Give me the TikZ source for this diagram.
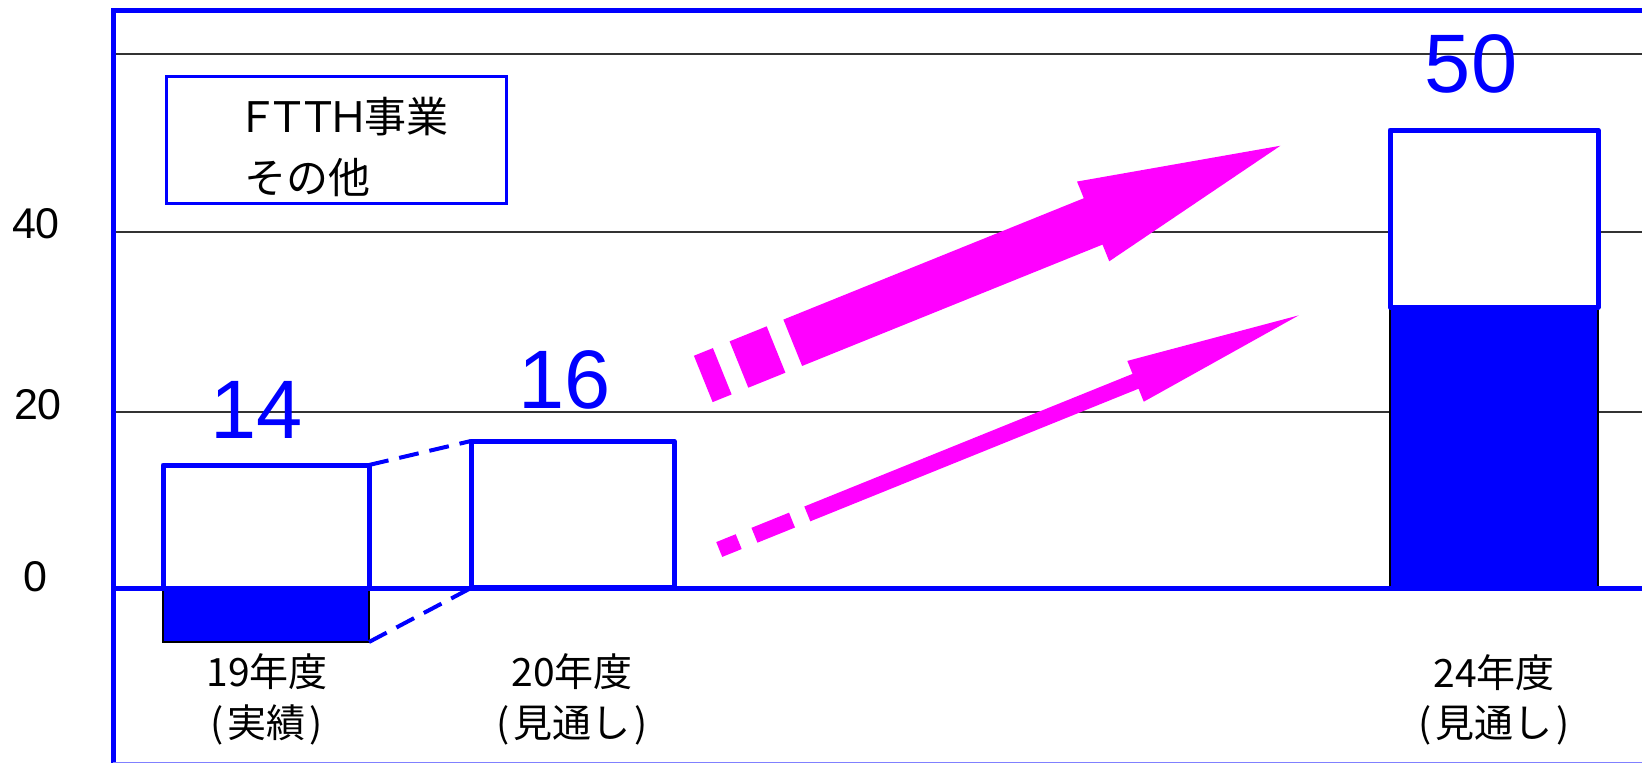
\documentclass[tikz,border=0pt]{standalone}
\usepackage{fontspec}
\setmainfont{Liberation Sans}
\newfontfamily\jp{Noto Sans CJK JP}
\definecolor{chartblue}{RGB}{0,0,255}
\definecolor{arrowmag}{RGB}{255,0,255}
\definecolor{gridgray}{RGB}{51,51,51}
\newcommand{\fwl}[1]{\makebox[30.5pt][c]{#1}}
\newcommand{\prn}[1]{(\kern4pt #1\kern4pt)}
\begin{document}
\begin{tikzpicture}[x=1pt,y=-1pt,
  gridline/.style={draw=gridgray, line width=2pt},
  frameline/.style={draw=chartblue, line width=5pt},
  barbox/.style={draw=chartblue, fill=white, line width=5pt, line join=round},
  barfill/.style={draw=black, fill=chartblue, line width=2pt},
  linkline/.style={draw=chartblue, line width=4pt, dash pattern=on 20pt off 11pt},
  bignum/.style={text=chartblue, font=\fontsize{83}{83}\selectfont, inner sep=0pt},
  axisnum/.style={font=\fontsize{43}{43}\selectfont, inner sep=0pt},
  yearlab/.style={font=\jp\fontsize{39}{39}\selectfont, inner sep=0pt},
  legtext/.style={font=\jp\fontsize{42}{42}\selectfont, inner sep=0pt, anchor=west},
  trend/.style={fill=arrowmag, draw=none}
]
\useasboundingbox (0,0) rectangle (1642,763);

% grid lines
\draw[gridline] (113,54) -- (1642,54);
\draw[gridline] (113,232) -- (1642,232);
\draw[gridline] (113,412) -- (1642,412);

% axis labels
\node[axisnum] (y40) at (36,224) {40};
\node[axisnum] (y20) at (38,405) {20};
\node[axisnum] (y0) at (35,577) {0};

% legend
\draw[draw=chartblue, fill=white, line width=3pt] (166,76) rectangle (506,203);
\node[legtext] (leg1) at (242,117) {\fwl{Ｆ}\fwl{Ｔ}\fwl{Ｔ}\fwl{Ｈ}事業};
\node[legtext] (leg2) at (244,178) {その他};

% bar 1 (19)
\draw[barfill] (163,588) rectangle (369,642);
\draw[barbox] (163,465) rectangle (369,588);
\coordinate (b1tr) at (369,465);
\coordinate (b1br) at (369,642);

% bar 2 (20)
\draw[barbox] (471,441) rectangle (674,587);
\coordinate (b2tl) at (471,441);
\coordinate (b2bl) at (471,588);

% bar 3 (24)
\draw[barfill] (1390,307) rectangle (1598,588);
\draw[barbox] (1390,130) rectangle (1598,307);

% frame and zero line
\draw[frameline, line cap=rect] (113,10) -- (1642,10);
\draw[frameline] (113,10) -- (113,763);
\draw[frameline] (113,588) -- (1642,588);
\draw[draw=chartblue!50, line width=1.5pt] (113,762.5) -- (1642,762.5);

% dashed links
\draw[linkline] (b1tr) -- (b2tl);
\draw[linkline] (b1br) -- (b2bl);

% value labels
\node[bignum] (v14) at (257,410) {14};
\node[bignum] (v16) at (565,380) {16};
\node[bignum] (v50) at (1471,64) {50};

% year labels
\node[yearlab] (yr19) at (267,672) {19年度};
\node[yearlab] (yr19b) at (267,725) {\prn{実績}};
\node[yearlab] (yr20) at (572,672) {20年度};
\node[yearlab] (yr20b) at (572,725) {\prn{見通し}};
\node[yearlab] (yr24) at (1494,673) {24年度};
\node[yearlab] (yr24b) at (1494,725) {\prn{見通し}};

% big trend arrow
\begin{scope}[shift={(713,375)}, rotate=22]
  \fill[trend] (-10.5,-25) rectangle (10,25);
  \fill[trend] (28,-25) rectangle (68,25);
  \fill[trend] (86,-25) -- (410,-25) -- (410,-43) -- (612,0) -- (410,43) -- (410,25) -- (86,25) -- cycle;
\end{scope}

% thin trend arrow
\begin{scope}[shift={(728.5,545.75)}, rotate=22]
  \fill[trend] (-10,-8) rectangle (11,8);
  \fill[trend] (28,-8) rectangle (68.5,8);
  \fill[trend] (85,-8) -- (439,-8) -- (439,-22) -- (615,0) -- (439,22) -- (439,8) -- (85,8) -- cycle;
\end{scope}
\end{tikzpicture}
\end{document}
